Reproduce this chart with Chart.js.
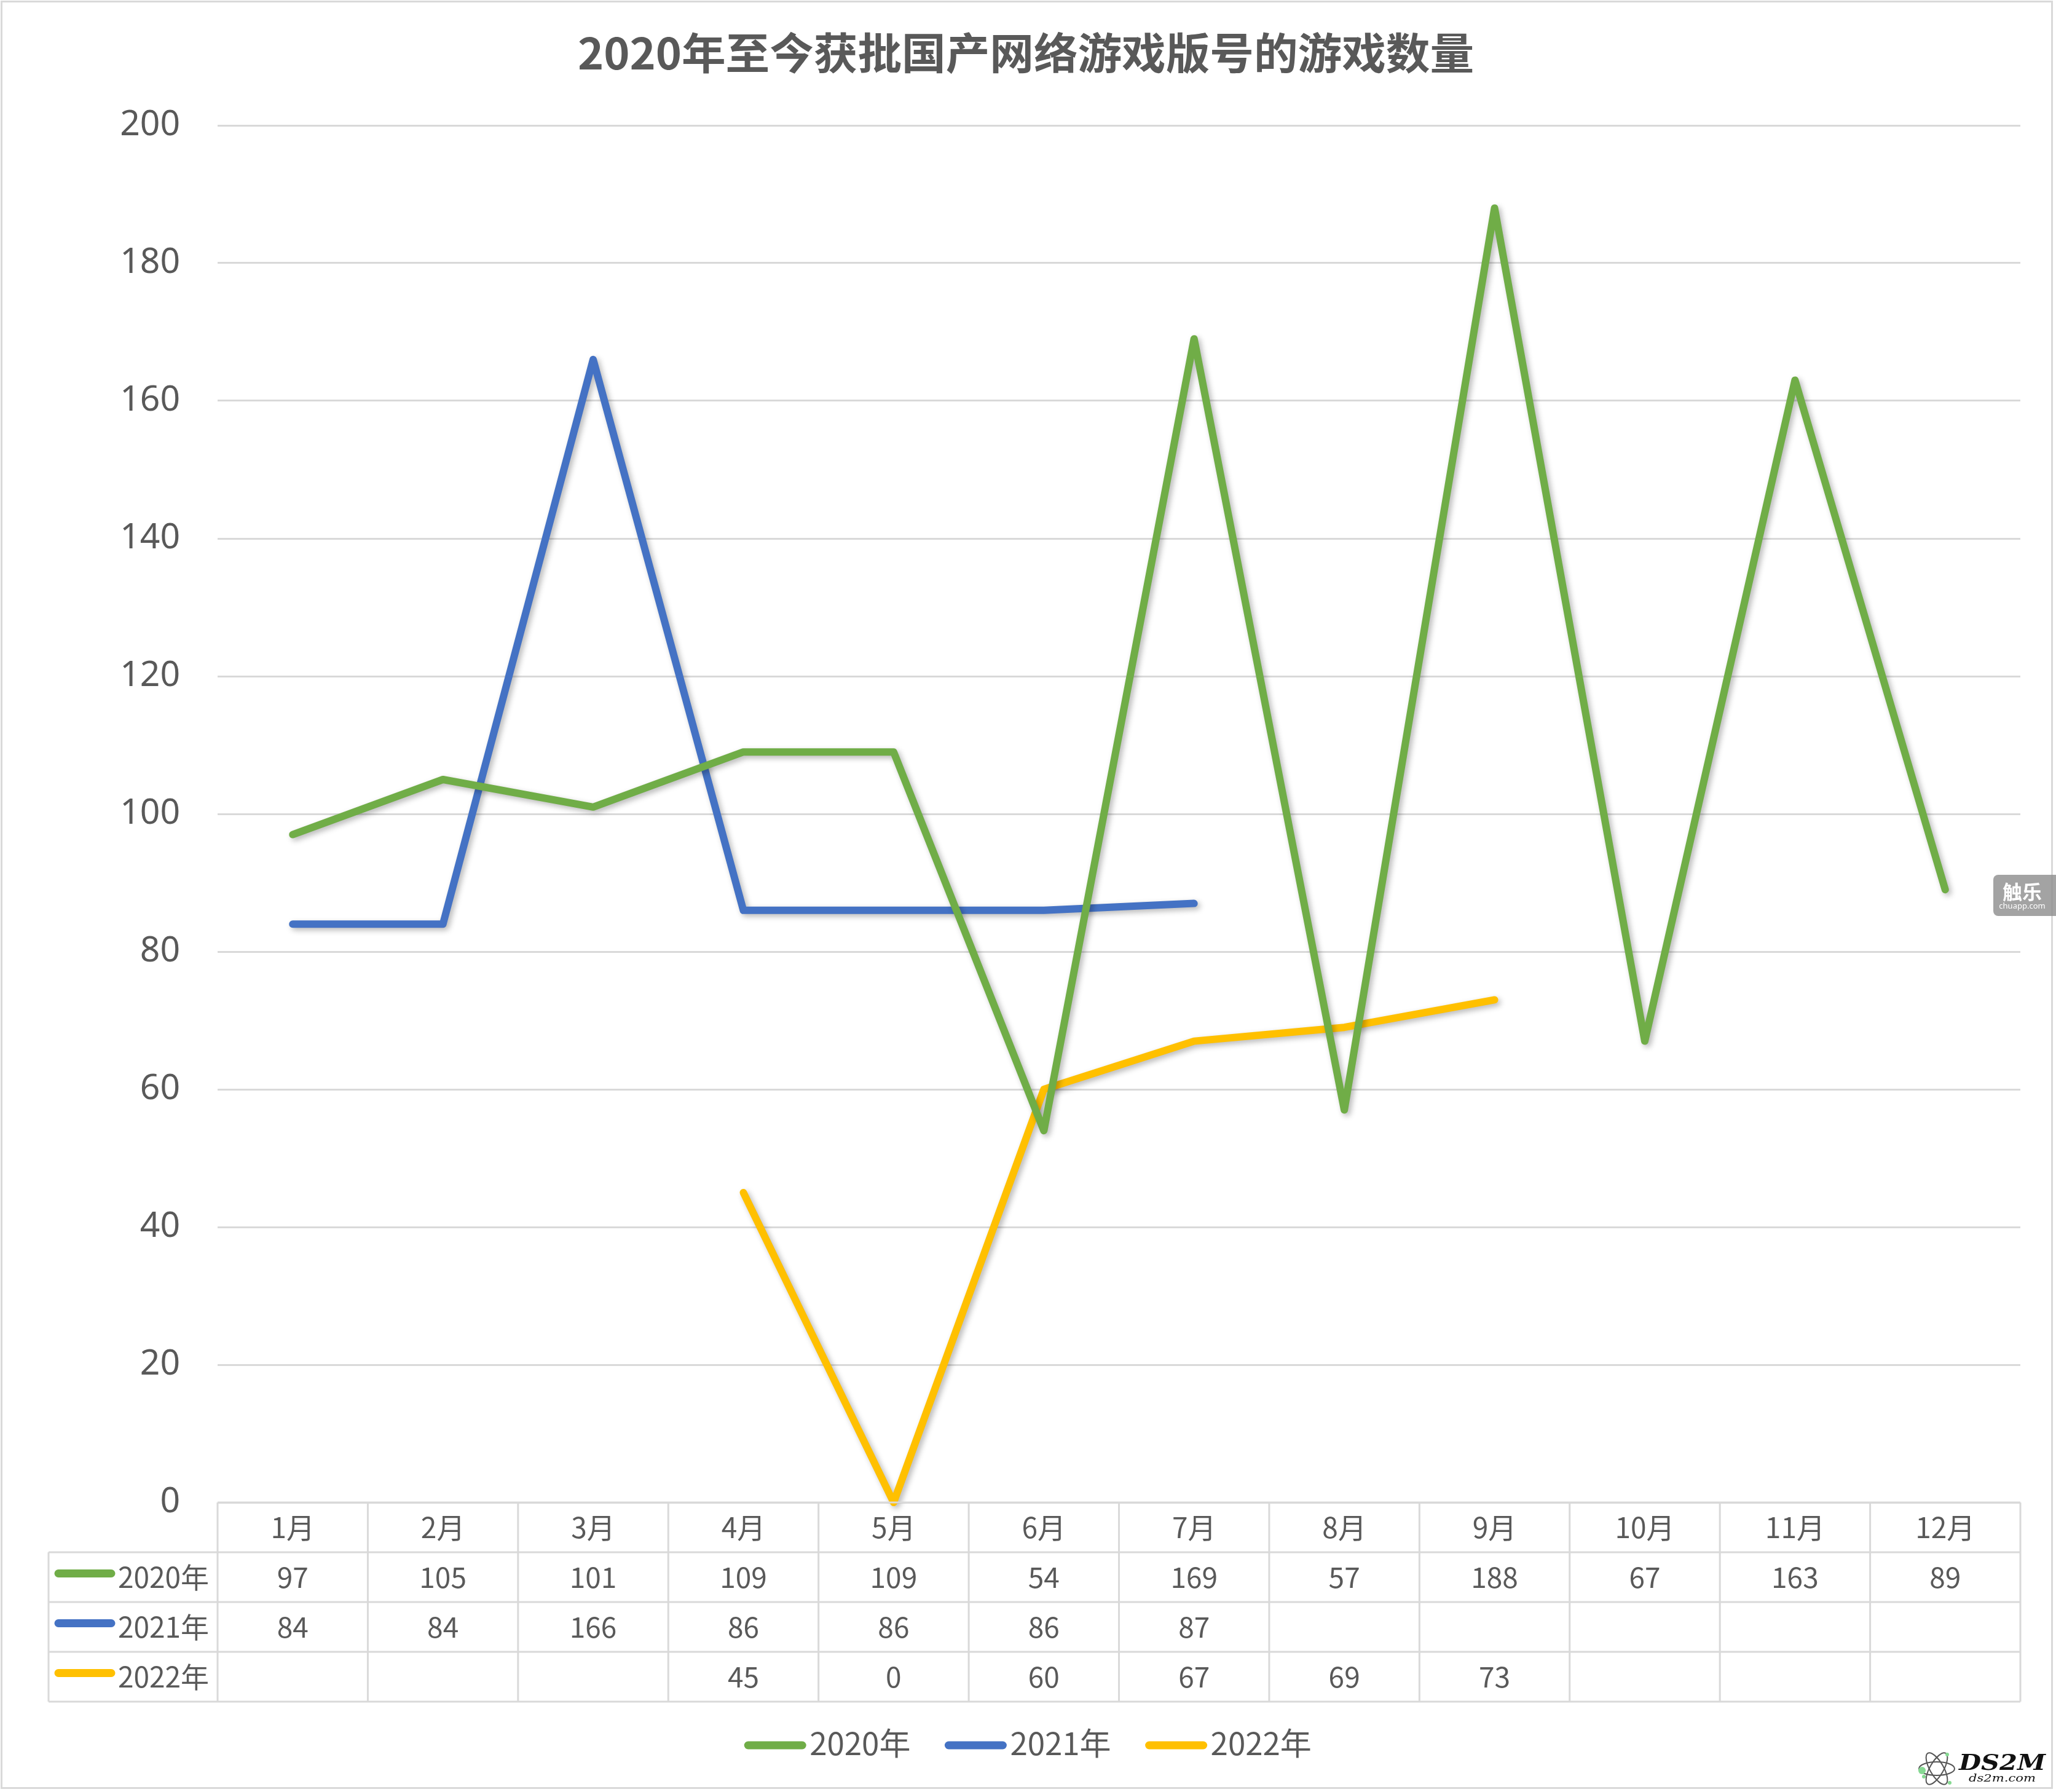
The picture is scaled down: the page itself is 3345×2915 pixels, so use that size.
<!DOCTYPE html>
<html>
<head>
<meta charset="utf-8">
<script src="https://cdn.jsdelivr.net/npm/chart.js@4.4.1/dist/chart.umd.min.js"></script>
<style>
  html, body { margin: 0; padding: 0; background: #fff; }
  #wrap { width: 3345px; height: 2915px; }
</style>
</head>
<body>
<div id="wrap"><canvas id="lineChart"></canvas></div>
<script>
// chart data
const chartTitle = '2020年至今获批国产网络游戏版号的游戏数量';
const months = ['1月', '2月', '3月', '4月', '5月', '6月', '7月', '8月', '9月', '10月', '11月', '12月'];
const seriesNames = ['2020年', '2021年', '2022年'];
const games2020 = [97, 105, 101, 109, 109, 54, 169, 57, 188, 67, 163, 89];
const games2021 = [84, 84, 166, 86, 86, 86, 87, null, null, null, null, null];
const games2022 = [null, null, null, 45, 0, 60, 67, 69, 73, null, null, null];
const yTickValues = [0, 20, 40, 60, 80, 100, 120, 140, 160, 180, 200];

const colors = ['#70AD47', '#4472C4', '#FFC000'];
const textColor = '#595959';
const lineGray = '#d9d9d9';

// draws text squeezed/stretched to a given width
function fitText(ctx, text, x, y, width) {
    const w = ctx.measureText(text).width;
    ctx.save();
    ctx.translate(x, y);
    ctx.scale(width / w, 1);
    ctx.fillText(text, 0, 0);
    ctx.restore();
}

function keyLine(ctx, x, y, w, color) {
    ctx.save();
    ctx.strokeStyle = color;
    ctx.lineWidth = 13;
    ctx.lineCap = 'round';
    ctx.beginPath();
    ctx.moveTo(x + 6, y);
    ctx.lineTo(x + w - 6, y);
    ctx.stroke();
    ctx.restore();
}

const backgroundPlugin = {
    id: 'background',
    beforeDraw(chart) {
        const ctx = chart.ctx;
        ctx.save();
        ctx.fillStyle = '#fff';
        ctx.fillRect(0, 0, chart.width, chart.height);
        ctx.strokeStyle = lineGray;
        ctx.lineWidth = 3;
        ctx.strokeRect(2.5, 2.5, 3336, 2906);

        // title
        ctx.fillStyle = textColor;
        ctx.font = 'bold 70px "Noto Sans CJK SC"';
        ctx.textBaseline = 'middle';
        ctx.textAlign = 'left';
        fitText(ctx, chartTitle, 940, 86, 1458);
        ctx.restore();
    }
};

const shadowPlugin = {
    id: 'lineShadow',
    beforeDatasetsDraw(chart) {
        const c = chart.ctx;
        c.save();
        c.shadowColor = 'rgba(0,0,0,0.28)';
        c.shadowBlur = 10;
        c.shadowOffsetX = 4;
        c.shadowOffsetY = 4;
    },
    afterDatasetsDraw(chart) {
        chart.ctx.restore();
    }
};

const tablePlugin = {
    id: 'dataTable',
    afterDraw(chart) {
        const { ctx, chartArea, scales: { x } } = chart;
        const top = chartArea.bottom;
        const rowH = 81;
        const tableLeft = 79;
        const colW = x.width / months.length;
        const series = chart.data.datasets;

        ctx.save();
        ctx.strokeStyle = lineGray;
        ctx.lineWidth = 3;
        ctx.beginPath();
        ctx.moveTo(chartArea.left, top);
        ctx.lineTo(chartArea.right, top);
        for (let r = 1; r <= 4; r++) {
            ctx.moveTo(tableLeft, top + r * rowH);
            ctx.lineTo(chartArea.right, top + r * rowH);
        }
        for (let i = 0; i < months.length; i++) {
            const cx = x.getPixelForValue(i) - colW / 2;
            ctx.moveTo(cx, top);
            ctx.lineTo(cx, top + 4 * rowH);
        }
        ctx.moveTo(chartArea.right, top);
        ctx.lineTo(chartArea.right, top + 4 * rowH);
        ctx.moveTo(tableLeft, top + rowH);
        ctx.lineTo(tableLeft, top + 4 * rowH);
        ctx.stroke();

        // cells
        ctx.fillStyle = textColor;
        ctx.font = '46px "Noto Sans CJK SC"';
        ctx.textAlign = 'center';
        ctx.textBaseline = 'middle';
        months.forEach((m, i) => {
            ctx.fillText(m, x.getPixelForValue(i), top + rowH / 2);
        });
        series.forEach((ds, r) => {
            const cy = top + (r + 1.5) * rowH;
            ds.data.forEach((v, i) => {
                if (v !== null) ctx.fillText(String(v), x.getPixelForValue(i), cy);
            });
            keyLine(ctx, 89, cy - 6, 98, ds.borderColor);
            ctx.textAlign = 'left';
            ctx.fillText(ds.label, 192, cy);
            ctx.textAlign = 'center';
        });

        // legend below the table
        ctx.font = '51px "Noto Sans CJK SC"';
        ctx.textAlign = 'left';
        const keyW = 100, gap = 6, itemGap = 56;
        const widths = series.map(ds => keyW + gap + ctx.measureText(ds.label).width);
        const total = widths.reduce((a, b) => a + b, 0) + itemGap * (series.length - 1);
        let lx = chart.width / 2 - total / 2;
        const ly = 2836;
        series.forEach((ds, k) => {
            keyLine(ctx, lx, ly + 3, keyW, ds.borderColor);
            ctx.fillText(ds.label, lx + keyW + gap, ly);
            lx += widths[k] + itemGap;
        });

        // chuapp watermark
        ctx.fillStyle = 'rgba(140,140,140,0.8)';
        ctx.beginPath();
        ctx.roundRect(3243, 1423, 110, 67, 8);
        ctx.fill();
        ctx.fillStyle = '#fff';
        ctx.textAlign = 'center';
        ctx.font = 'bold 32px "Noto Sans CJK SC"';
        ctx.fillText('触乐', 3290, 1451);
        ctx.font = '13px "Noto Sans"';
        ctx.fillText('chuapp.com', 3290, 1474);

        // ds2m logo
        ctx.strokeStyle = '#555';
        ctx.lineWidth = 2;
        [0, Math.PI / 3, -Math.PI / 3].forEach(a => {
            ctx.beginPath();
            ctx.ellipse(3151, 2877, 29, 11, a, 0, Math.PI * 2);
            ctx.stroke();
        });
        ctx.fillStyle = '#86d992';
        [[3127, 2880, 6], [3130, 2890, 3], [3168, 2854, 3], [3172, 2900, 3]].forEach(([px, py, pr]) => {
            ctx.beginPath();
            ctx.arc(px, py, pr, 0, Math.PI * 2);
            ctx.fill();
        });
        ctx.fillStyle = '#111';
        ctx.textAlign = 'left';
        ctx.textBaseline = 'alphabetic';
        ctx.font = 'italic bold 35px "DejaVu Serif"';
        fitText(ctx, 'DS2M', 3187, 2879, 141);
        ctx.font = 'italic 17px "DejaVu Serif"';
        fitText(ctx, 'ds2m.com', 3203, 2898, 109);
        ctx.restore();
    }
};

const ctx = document.getElementById('lineChart').getContext('2d');
const lineChart = new Chart(ctx, {
    type: 'line',
    data: {
        labels: months,
        datasets: [
            { label: seriesNames[0], data: games2020, borderColor: colors[0], backgroundColor: colors[0] },
            { label: seriesNames[1], data: games2021, borderColor: colors[1], backgroundColor: colors[1] },
            { label: seriesNames[2], data: games2022, borderColor: colors[2], backgroundColor: colors[2] }
        ]
    },
    options: {
        responsive: true,
        maintainAspectRatio: false,
        devicePixelRatio: 1,
        animation: false,
        layout: {
            padding: { top: 204, left: 0, right: 58, bottom: 471 }
        },
        elements: {
            line: { borderWidth: 12, tension: 0, borderCapStyle: 'round', borderJoinStyle: 'round' },
            point: { radius: 0, hoverRadius: 0 }
        },
        datasets: { line: { clip: false } },
        plugins: {
            legend: { display: false },
            title: { display: false },
            tooltip: { enabled: false }
        },
        scales: {
            x: {
                display: false,
                offset: true
            },
            y: {
                min: 0,
                max: 200,
                afterBuildTicks: (scale) => {
                    scale.ticks = yTickValues.map(v => ({ value: v }));
                },
                afterFit: (scale) => { scale.width = 354; },
                border: { display: false },
                grid: { color: lineGray, lineWidth: 3, drawTicks: false },
                ticks: {
                    color: textColor,
                    padding: 61,
                    font: { family: '"Noto Sans"', size: 57 }
                }
            }
        }
    },
    plugins: [backgroundPlugin, shadowPlugin, tablePlugin]
});
</script>
</body>
</html>
